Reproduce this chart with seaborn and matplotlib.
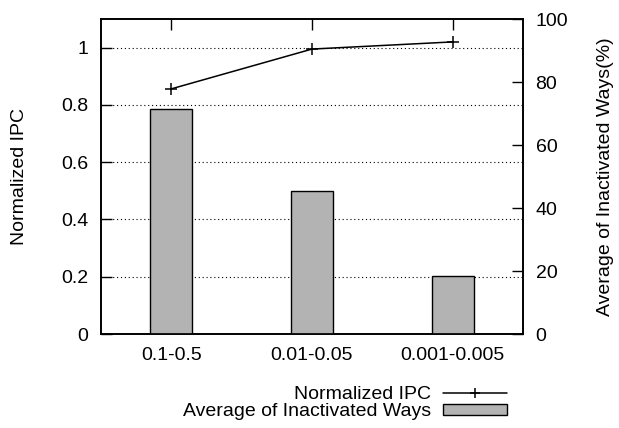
import numpy as np
import pandas as pd
import matplotlib
matplotlib.use("Agg")
import matplotlib.pyplot as plt
import seaborn as sns
from matplotlib.lines import Line2D
from matplotlib.patches import Patch

# data
categories = ["0.1-0.5", "0.01-0.05", "0.001-0.005"]
normalized_ipc = [0.856, 0.995, 1.02]
inactivated_ways = [71.4, 45.4, 18.5]

df = pd.DataFrame({
    "range": categories,
    "ipc": normalized_ipc,
    "ways": inactivated_ways,
})

sns.set_theme(style="white")
plt.rcParams["font.family"] = ["Liberation Sans", "DejaVu Sans"]
plt.rcParams["text.color"] = "black"
plt.rcParams["axes.labelcolor"] = "black"
fs = 14

fig = plt.figure(figsize=(6.19, 4.28), dpi=100)
ax1 = fig.add_axes([0.163, 0.2196, 0.682, 0.736])
ax2 = ax1.twinx()

# left axis: normalized IPC line
sns.lineplot(data=df, x="range", y="ipc", ax=ax1, color="black", lw=1.1,
             marker="+", markersize=8, markeredgewidth=1.1,
             markeredgecolor="black", sort=False)
ax1.set_ylim(0, 1.1)
ax1.set_xlim(-0.5, 2.5)
ax1.set_yticks([0, 0.2, 0.4, 0.6, 0.8, 1.0])
ax1.set_yticklabels(["0", "0.2", "0.4", "0.6", "0.8", "1"])
ax1.set_ylabel("Normalized IPC", fontsize=fs, labelpad=24)
ax1.set_xlabel("")
for y in [0.2, 0.4, 0.6, 0.8, 1.0]:
    ax1.axhline(y, color="black", lw=0.8, ls=(0, (1, 2.5)), zorder=0)

# right axis: bars
sns.barplot(data=df, x="range", y="ways", ax=ax2, color="#b3b3b3",
            edgecolor="black", linewidth=1.0, width=0.3, saturation=1)
ax2.set_ylim(0, 100)
ax2.set_xlim(-0.5, 2.5)
ax2.set_yticks([0, 20, 40, 60, 80, 100])
ax2.set_ylabel("Average of Inactivated Ways(%)", fontsize=fs, labelpad=21)
ax2.set_xlabel("")

for ax in (ax1, ax2):
    for s in ax.spines.values():
        s.set_color("black")
        s.set_linewidth(1.2)
    ax.tick_params(direction="in", length=8, width=1, labelsize=fs,
                   colors="black", top=True, pad=9)
ax1.tick_params(axis="y", right=False)
ax2.tick_params(axis="y", left=False, right=True)
ax1.tick_params(axis="x", bottom=True, top=True)

handles = [
    Line2D([], [], color="black", lw=1.1, marker="+", markersize=7,
           markeredgewidth=1.1),
    Patch(facecolor="#b3b3b3", edgecolor="black", linewidth=1.0),
]
labels = ["Normalized IPC", "Average of Inactivated Ways"]
fig.legend(handles, labels, loc="upper right", bbox_to_anchor=(0.835, 0.12),
           frameon=False, markerfirst=False, fontsize=fs, handlelength=3.3,
           handleheight=0.5, labelspacing=0.0, handletextpad=0.6,
           borderpad=0)

fig.savefig("out.png", dpi=100)
